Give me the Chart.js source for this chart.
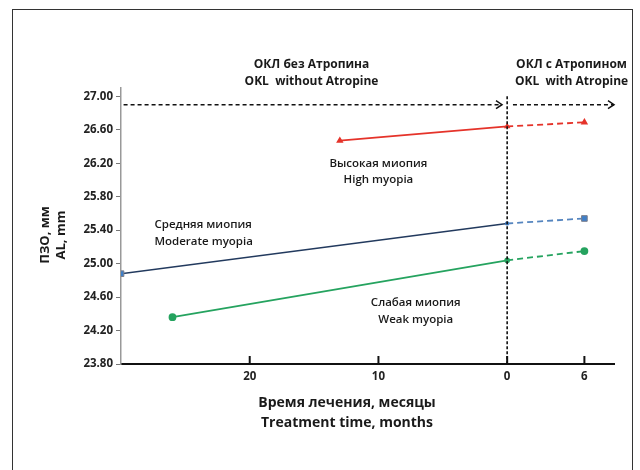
<!DOCTYPE html>
<html>
<head>
<meta charset="utf-8">
<script src="https://cdn.jsdelivr.net/npm/chart.js@4"></script>
<style>
  body { margin: 0; background: #fff; }
  #wrap { position: relative; width: 640px; height: 470px; overflow: hidden; }
  #frame { position: absolute; left: 12px; top: 9px; width: 619px; height: 480px; border: 1px solid #333; }
  #chart { position: absolute; left: 0; top: 0; }
</style>
</head>
<body>
<div id="wrap">
  <div id="frame"></div>
  <canvas id="chart" width="640" height="470"></canvas>
</div>
<script>
// months relative to atropine start (negative = before), AL in mm
const highMonths = [-13, 0, 6];
const highAL = [26.47, 26.64, 26.69];
const modMonths = [-30, 0, 6];
const modAL = [24.88, 25.48, 25.54];
const weakMonths = [-26, 0, 6];
const weakAL = [24.36, 25.04, 25.15];

const xTicks = [-20, -10, 0, 6];
const yTicks = [23.8, 24.2, 24.6, 25.0, 25.4, 25.8, 26.2, 26.6, 27.0];

const FONT = "'Open Sans', 'DejaVu Sans', sans-serif";

function pts(xs, ys, from, to) {
  const out = [];
  for (let i = from; i <= to; i++) out.push({ x: xs[i], y: ys[i] });
  return out;
}

function arrow(ctx, x1, x2, y) {
  ctx.save();
  ctx.strokeStyle = '#111';
  ctx.lineWidth = 1.3;
  ctx.setLineDash([4, 3]);
  ctx.beginPath();
  ctx.moveTo(x1, y);
  ctx.lineTo(x2, y);
  ctx.stroke();
  ctx.setLineDash([]);
  ctx.lineWidth = 1.5;
  ctx.beginPath();
  ctx.moveTo(x2 - 6, y - 4);
  ctx.lineTo(x2, y);
  ctx.lineTo(x2 - 6, y + 4);
  ctx.stroke();
  ctx.restore();
}

const extras = {
  id: 'extras',
  afterDraw(chart) {
    const ctx = chart.ctx;
    const xs = chart.scales.x, ys = chart.scales.y;
    const area = chart.chartArea;

    // inward tick marks on the x axis
    ctx.save();
    ctx.strokeStyle = '#111';
    ctx.lineWidth = 2;
    xTicks.forEach(v => {
      const px = xs.getPixelForValue(v);
      ctx.beginPath();
      ctx.moveTo(px, area.bottom);
      ctx.lineTo(px, area.bottom - 8);
      ctx.stroke();
    });

    // dashed vertical line at start of atropine
    const x0 = xs.getPixelForValue(0);
    ctx.lineWidth = 1.6;
    ctx.setLineDash([3, 2]);
    ctx.beginPath();
    ctx.moveTo(x0, ys.getPixelForValue(27.0));
    ctx.lineTo(x0, area.bottom);
    ctx.stroke();
    ctx.restore();

    // period arrows
    const ay = ys.getPixelForValue(26.9);
    arrow(ctx, xs.getPixelForValue(-29.8), xs.getPixelForValue(-0.4), ay);
    arrow(ctx, xs.getPixelForValue(0.45), xs.getPixelForValue(8.3), ay);

    // texts
    ctx.save();
    ctx.fillStyle = '#1a1a1a';
    ctx.textBaseline = 'middle';
    ctx.textAlign = 'center';
    ctx.font = 'bold 12px ' + FONT;
    ctx.fillText('ОКЛ без Атропина', xs.getPixelForValue(-15.2), 65);
    ctx.fillText('OKL  without Atropine', xs.getPixelForValue(-15.2), 82);
    ctx.fillText('ОКЛ с Атропином', xs.getPixelForValue(5.0), 65);
    ctx.fillText('OKL  with Atropine', xs.getPixelForValue(5.0), 82);

    ctx.font = '600 11.5px ' + FONT;
    let py = ys.getPixelForValue(26.2);
    ctx.fillText('Высокая миопия', xs.getPixelForValue(-10), py);
    ctx.fillText('High myopia', xs.getPixelForValue(-10), py + 16);
    py = ys.getPixelForValue(24.53);
    ctx.fillText('Слабая миопия', xs.getPixelForValue(-7.1), py);
    ctx.fillText('Weak myopia', xs.getPixelForValue(-7.1), py + 17);
    ctx.textAlign = 'left';
    py = ys.getPixelForValue(25.47);
    ctx.fillText('Средняя миопия', xs.getPixelForValue(-27.4), py);
    ctx.fillText('Moderate myopia', xs.getPixelForValue(-27.4), py + 17);

    // axis titles
    ctx.textAlign = 'center';
    ctx.font = 'bold 14px ' + FONT;
    ctx.fillText('Время лечения, месяцы', 347, 403);
    ctx.fillText('Treatment time, months', 347, 423);

    ctx.translate(0, 235);
    ctx.rotate(-Math.PI / 2);
    ctx.font = 'bold 13px ' + FONT;
    ctx.fillText('ПЗО, мм', 0, 45);
    ctx.fillText('AL, mm', 0, 61);
    ctx.restore();
  }
};

const red = '#e5332a';
const navy = '#223a5e';
const lightBlue = '#5585bf';
const green = '#25a35f';
const squareFill = '#3f7fc8';
const squareEdge = '#7b7f8c';

new Chart(document.getElementById('chart'), {
  type: 'scatter',
  data: {
    datasets: [
      {
        label: 'High myopia',
        data: pts(highMonths, highAL, 0, 1),
        showLine: true, borderColor: red, borderWidth: 1.8,
        pointStyle: 'triangle', pointRadius: [2.5, 2],
        backgroundColor: red, pointBorderColor: red
      },
      {
        label: 'High myopia (atropine)',
        data: pts(highMonths, highAL, 1, 2),
        showLine: true, borderColor: red, borderWidth: 1.8, borderDash: [6, 4],
        pointStyle: 'triangle', pointRadius: [0, 2.5],
        backgroundColor: red, pointBorderColor: red
      },
      {
        label: 'Moderate myopia',
        data: pts(modMonths, modAL, 0, 1),
        showLine: true, borderColor: navy, borderWidth: 1.5,
        pointStyle: 'rect', pointRadius: [4, 2],
        backgroundColor: squareFill, pointBorderColor: [squareEdge, squareFill], pointBorderWidth: 1
      },
      {
        label: 'Moderate myopia (atropine)',
        data: pts(modMonths, modAL, 1, 2),
        showLine: true, borderColor: lightBlue, borderWidth: 1.8, borderDash: [6, 4],
        pointStyle: 'rect', pointRadius: [0, 4],
        backgroundColor: squareFill, pointBorderColor: squareEdge, pointBorderWidth: 1
      },
      {
        label: 'Weak myopia',
        data: pts(weakMonths, weakAL, 0, 1),
        showLine: true, borderColor: green, borderWidth: 1.8,
        pointStyle: 'circle', pointRadius: [3, 2],
        backgroundColor: green, pointBorderColor: green
      },
      {
        label: 'Weak myopia (atropine)',
        data: pts(weakMonths, weakAL, 1, 2),
        showLine: true, borderColor: green, borderWidth: 1.8, borderDash: [6, 4],
        pointStyle: 'circle', pointRadius: [0, 3],
        backgroundColor: green, pointBorderColor: green
      }
    ]
  },
  options: {
    responsive: false,
    animation: false,
    devicePixelRatio: 1,
    layout: { padding: { top: 88, right: 26, bottom: 0, left: 0 } },
    plugins: { legend: { display: false }, tooltip: { enabled: false } },
    scales: {
      x: {
        type: 'linear', min: -30, max: 8.3,
        afterBuildTicks: s => { s.ticks = xTicks.map(v => ({ value: v })); },
        afterFit: s => { s.height = 106; },
        grid: { display: true, drawOnChartArea: false, drawTicks: false },
        border: { display: true, color: '#111', width: 2 },
        ticks: {
          padding: 6, color: '#222', maxRotation: 0, autoSkip: false,
          font: { family: FONT, size: 11.5, weight: 'bold' },
          callback: v => Math.abs(v)
        }
      },
      y: {
        type: 'linear', min: 23.8, max: 27.1,
        afterBuildTicks: s => { s.ticks = yTicks.map(v => ({ value: v })); },
        afterFit: s => { s.width = 121; },
        grid: { display: true, drawOnChartArea: false, drawTicks: true, tickLength: 5, color: '#777' },
        border: { display: true, color: '#999', width: 1.5 },
        ticks: {
          padding: 3, color: '#222', autoSkip: false,
          font: { family: FONT, size: 11.5, weight: 'bold' },
          callback: v => v.toFixed(2)
        }
      }
    }
  },
  plugins: [extras]
});
</script>
</body>
</html>
